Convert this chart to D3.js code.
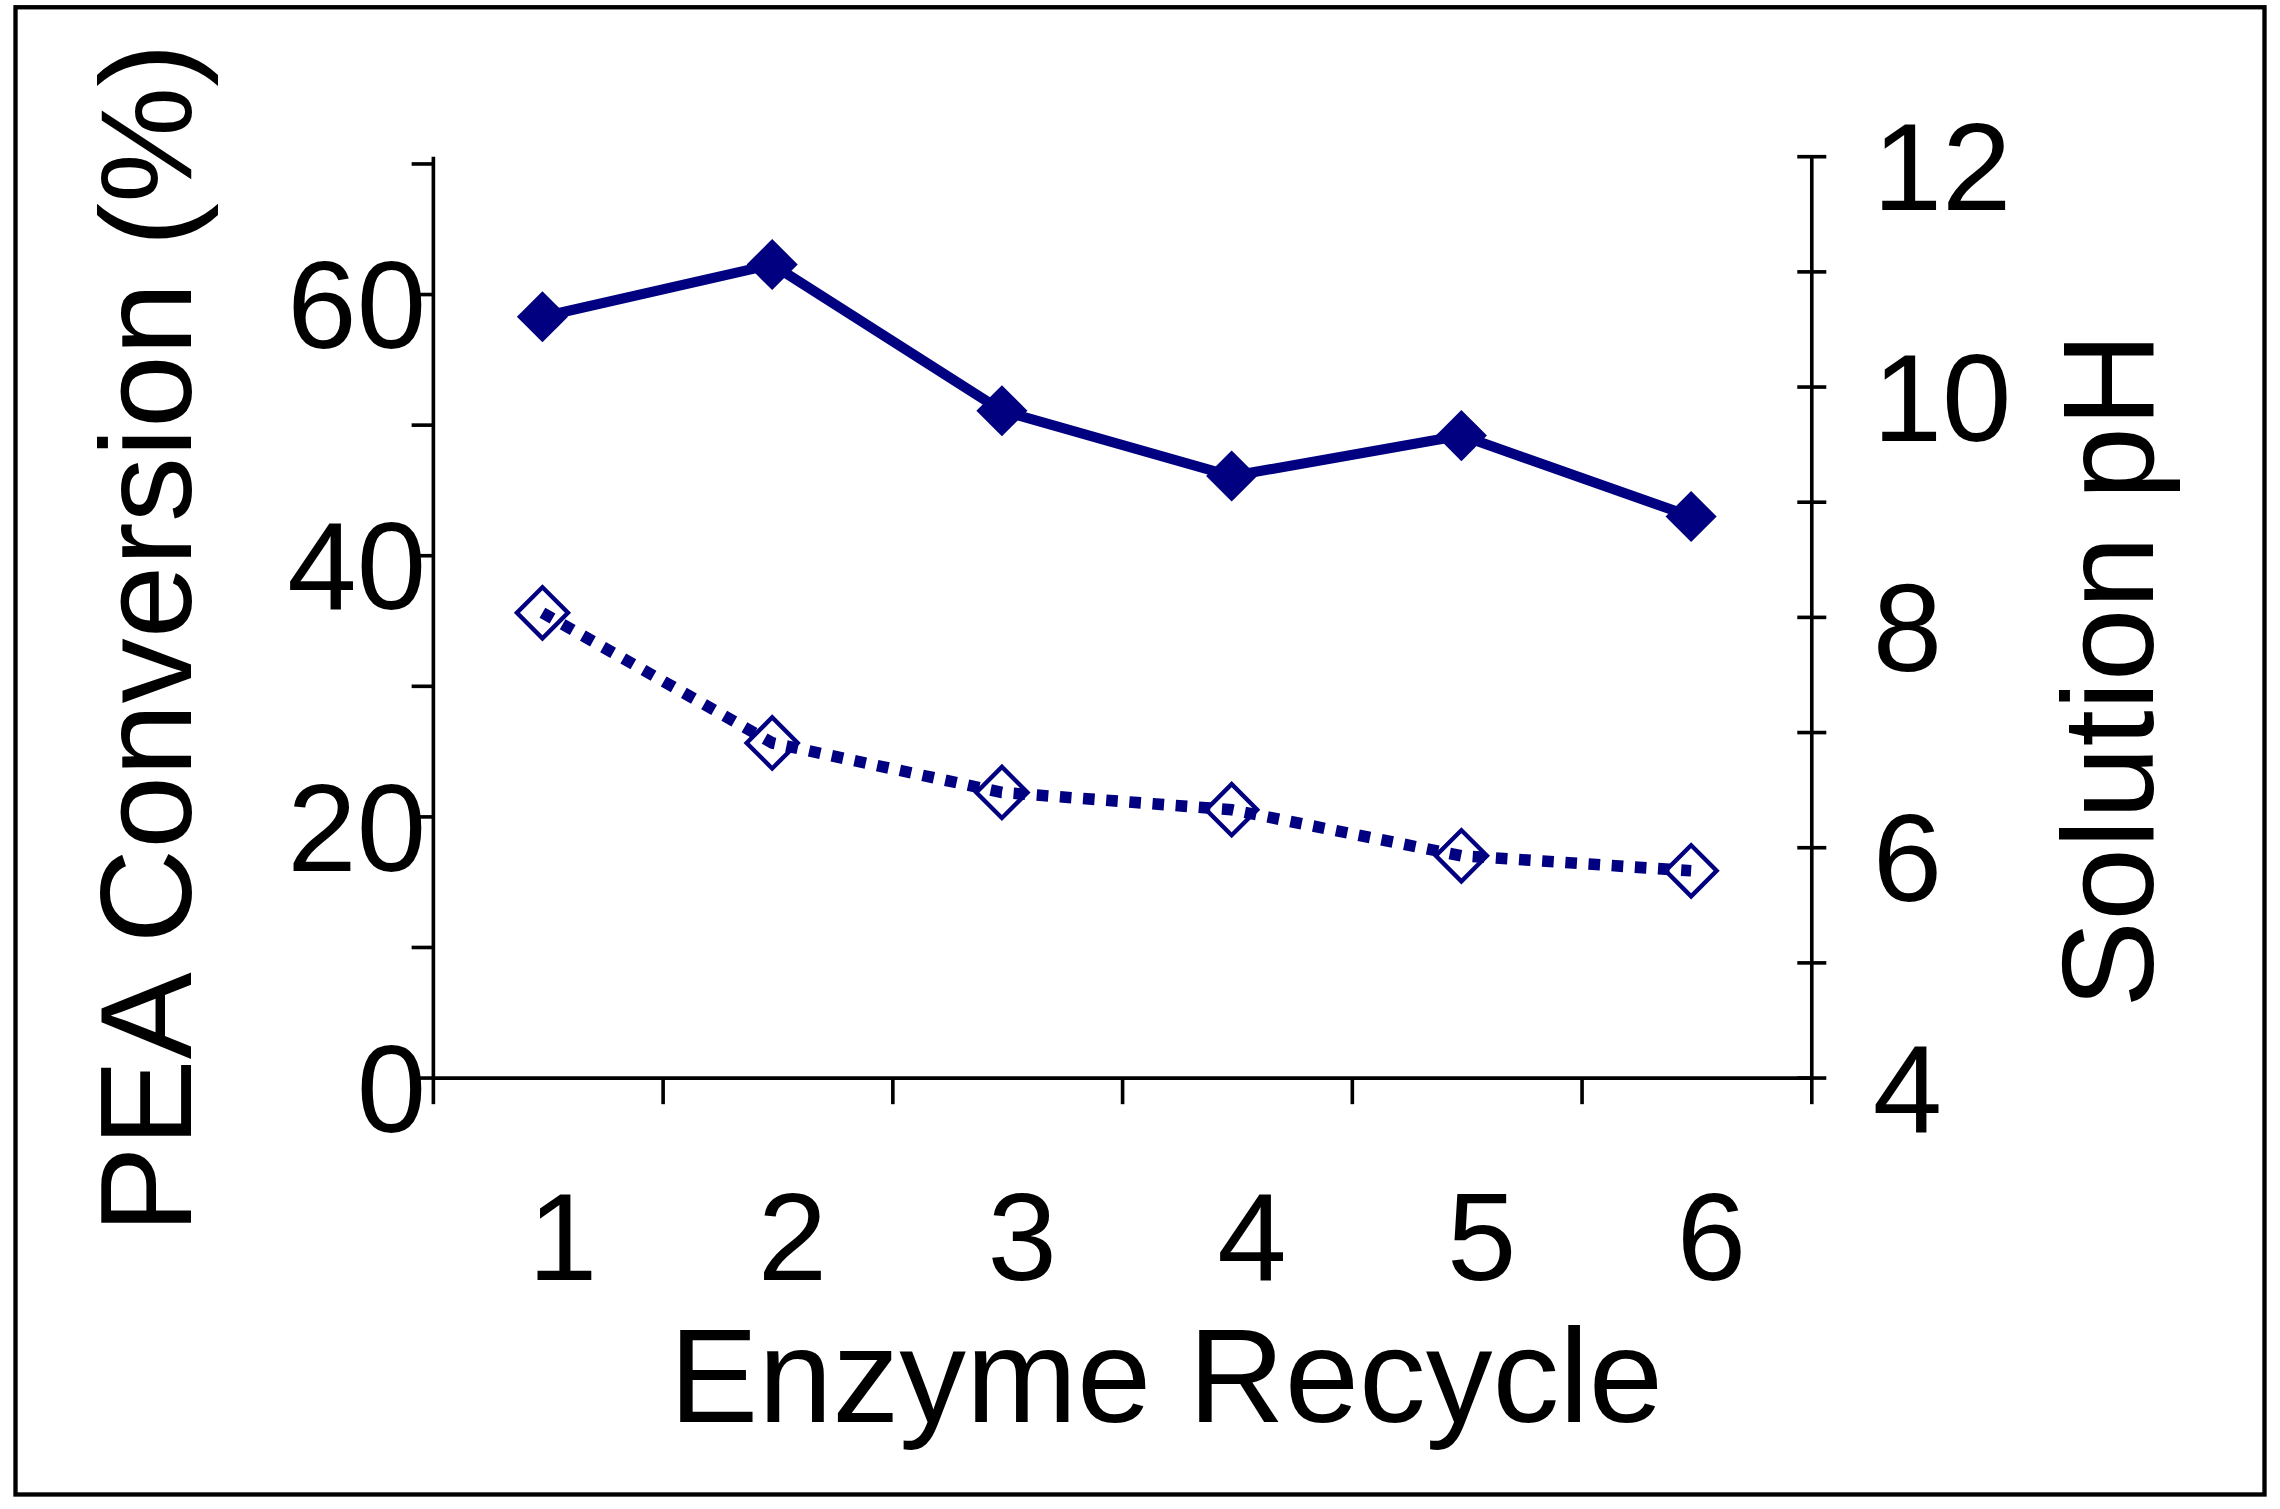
<!DOCTYPE html>
<html>
<head>
<meta charset="utf-8">
<script src="https://d3js.org/d3.v7.min.js"></script>
<style>
body { margin: 0; background: #fff; }
text { font-family: "Liberation Sans", Arial, sans-serif; fill: #000; }
</style>
</head>
<body>
<script>
var cycles = [1, 2, 3, 4, 5, 6];
var conversion = [58.3, 62.3, 51.1, 46.1, 49.2, 43.0];
var solutionPH = [8.04, 6.91, 6.48, 6.33, 5.93, 5.80];
var leftTicks = [0, 20, 40, 60];
var rightTicks = [4, 6, 8, 10, 12];

var svg = d3.select("body").append("svg")
  .attr("width", 2280).attr("height", 1509)
  .attr("viewBox", "0 0 1560 1040");

svg.append("rect").attr("x", 5).attr("y", 5).attr("width", 1550).attr("height", 1025)
  .attr("fill", "none").attr("stroke", "#000").attr("stroke-width", 3);

var L = 293, R = 1243, T = 113, B = 743;
var x = d3.scaleBand().domain(cycles).range([L, R]);
var yL = d3.scaleLinear().domain([0, 70]).range([B, T]);
var yR = d3.scaleLinear().domain([4, 12]).range([B, 108]);
var cx = function(i) { return x(cycles[i]) + x.bandwidth() / 2 - 4; };

var g = svg.append("g").attr("stroke", "#000").attr("stroke-width", 2.5);
g.append("line").attr("x1", L).attr("x2", L).attr("y1", 108).attr("y2", B);
g.append("line").attr("x1", R).attr("x2", R).attr("y1", 108).attr("y2", B);
g.append("line").attr("x1", L).attr("x2", R).attr("y1", B).attr("y2", B);
d3.range(0, 71, 10).forEach(function(v) {
  g.append("line").attr("x1", L - 15).attr("x2", L).attr("y1", yL(v)).attr("y2", yL(v));
});
d3.range(4, 13, 1).forEach(function(v) {
  g.append("line").attr("x1", R - 10).attr("x2", R + 10).attr("y1", yR(v)).attr("y2", yR(v));
});
d3.range(0, 7).forEach(function(i) {
  var xx = L + i * x.bandwidth();
  g.append("line").attr("x1", xx).attr("x2", xx).attr("y1", B).attr("y2", B + 18);
});

leftTicks.forEach(function(v) {
  svg.append("text").attr("x", 288).attr("y", yL(v) + 6).attr("dy", "0.36em")
    .attr("text-anchor", "end").attr("font-size", 86).text(v);
});
rightTicks.forEach(function(v) {
  svg.append("text").attr("x", 1285).attr("y", yR(v) + 6).attr("dy", "0.36em")
    .attr("text-anchor", "start").attr("font-size", 86).text(v);
});
cycles.forEach(function(c, i) {
  svg.append("text").attr("x", cx(i) + 14).attr("y", 882)
    .attr("text-anchor", "middle").attr("font-size", 86).text(c);
});

svg.append("text").attr("x", 798).attr("y", 980).attr("text-anchor", "middle")
  .attr("font-size", 92).text("Enzyme Recycle");
svg.append("text").attr("transform", "translate(126,440) rotate(-90)")
  .attr("text-anchor", "middle").attr("font-size", 90).text("PEA Conversion (%)");
svg.append("text").attr("transform", "translate(1478,462) rotate(-90)")
  .attr("text-anchor", "middle").attr("font-size", 90).text("Solution pH");

var navy = "#000080";
var line1 = d3.line().x(function(d, i) { return cx(i); }).y(function(d) { return yL(d); });
svg.append("path").attr("d", line1(conversion)).attr("fill", "none")
  .attr("stroke", navy).attr("stroke-width", 7);
var sq = d3.symbol().type(d3.symbolSquare).size(620);
conversion.forEach(function(v, i) {
  svg.append("path").attr("d", sq()).attr("transform", "translate(" + cx(i) + "," + yL(v) + ") rotate(45)")
    .attr("fill", navy);
});

var line2 = d3.line().x(function(d, i) { return cx(i); }).y(function(d) { return yR(d); });
svg.append("path").attr("d", line2(solutionPH)).attr("fill", "none")
  .attr("stroke", navy).attr("stroke-width", 8).attr("stroke-dasharray", "8,8");
solutionPH.forEach(function(v, i) {
  svg.append("path").attr("d", sq()).attr("transform", "translate(" + cx(i) + "," + yR(v) + ") rotate(45)")
    .attr("fill", "none").attr("stroke", navy).attr("stroke-width", 3);
});
</script>
</body>
</html>
